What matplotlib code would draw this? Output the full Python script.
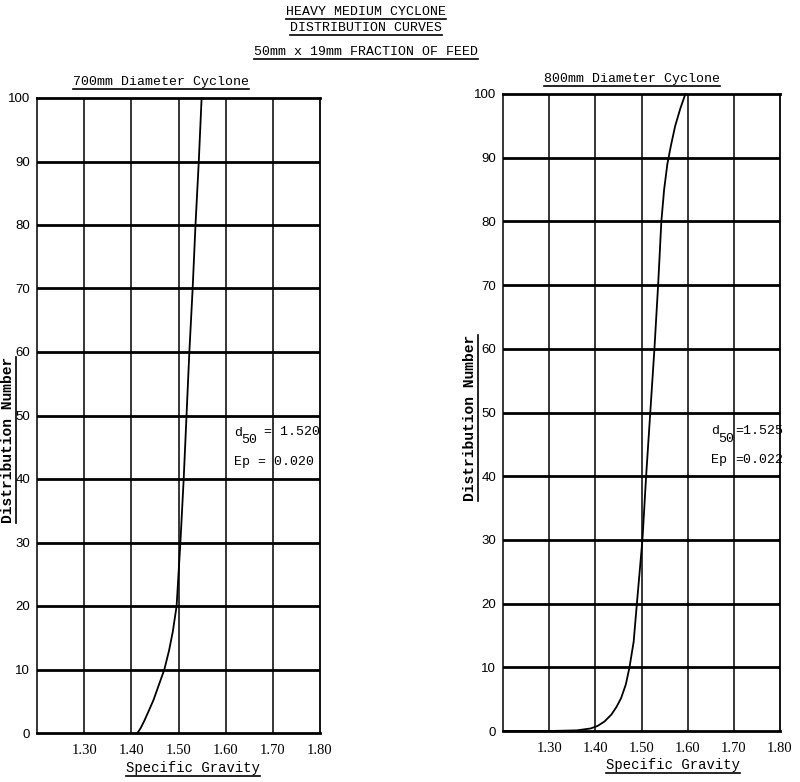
import matplotlib
matplotlib.use("Agg")
import matplotlib.pyplot as plt
from matplotlib.lines import Line2D

# ---- data ----
x_ticks = [1.30, 1.40, 1.50, 1.60, 1.70, 1.80]
x_tick_labels = ["1.30", "1.40", "1.50", "1.60", "1.70", "1.80"]
y_ticks = [0, 10, 20, 30, 40, 50, 60, 70, 80, 90, 100]

sg_700 = [1.413, 1.420, 1.428, 1.437, 1.447, 1.458, 1.470, 1.480, 1.488, 1.496, 1.504, 1.511, 1.517, 1.523, 1.530, 1.536, 1.543, 1.549]
dn_700 = [0, 0.8, 2.0, 3.5, 5.2, 7.5, 10, 13, 16, 20, 30, 40, 50, 60, 70, 80, 90, 100]

sg_800 = [1.20, 1.30, 1.36, 1.39, 1.405, 1.420, 1.435, 1.446, 1.456, 1.466, 1.474, 1.483, 1.490, 1.502, 1.510, 1.519, 1.528, 1.536, 1.543, 1.549, 1.556, 1.564, 1.573, 1.584, 1.595]
dn_800 = [0, 0, 0.1, 0.4, 0.8, 1.5, 2.6, 3.8, 5.2, 7.3, 10, 14, 20, 30, 40, 50, 60, 70, 80, 85, 89, 92, 95, 97.7, 100]

W, H = 800, 782
fig = plt.figure(figsize=(W / 100, H / 100), dpi=100)
fig.patch.set_facecolor("white")

MONO = "Liberation Mono"
SERIF = "Liberation Serif"
SANS = "Liberation Sans"


def fx(x):
    return x / W


def fy(y):
    return 1 - y / H


def make_axes(left, top, right, bottom):
    ax = fig.add_axes([fx(left), fy(bottom), fx(right - left), (bottom - top) / H])
    ax.set_xlim(1.20, 1.80)
    ax.set_ylim(0, 100)
    ax.set_xticks(x_ticks)
    ax.set_xticklabels(x_tick_labels, fontfamily=SERIF, fontsize=10.5)
    ax.set_yticks(y_ticks)
    ax.set_yticklabels([str(v) for v in y_ticks], fontfamily=SANS, fontsize=9.5)
    ax.tick_params(length=0, pad=8, axis="x")
    ax.tick_params(length=0, pad=5, axis="y")
    for v in x_ticks[:-1]:
        ax.axvline(v, color="black", lw=1.1, zorder=1)
    for v in y_ticks[1:-1]:
        ax.axhline(v, color="black", lw=2.0, zorder=1)
    ax.spines["left"].set_linewidth(1.1)
    ax.spines["right"].set_linewidth(1.3)
    ax.spines["top"].set_linewidth(2.0)
    ax.spines["bottom"].set_linewidth(2.0)
    return ax


ax1 = make_axes(37, 98, 320, 733)
ax1.plot(sg_700, dn_700, color="black", lw=1.3, zorder=3, clip_on=False)

ax2 = make_axes(503, 94, 780, 731)
ax2.plot(sg_800, dn_800, color="black", lw=1.3, zorder=3, clip_on=False)

texts = []


def utext(x, y, s, size=9, weight="normal", rotation=0, family=MONO, underline=True, ha="center"):
    t = fig.text(fx(x), fy(y), s, fontsize=size, fontfamily=family, fontweight=weight,
                 rotation=rotation, ha=ha, va="center")
    if underline:
        texts.append((t, rotation))
    return t


# main titles
utext(366, 12, "HEAVY MEDIUM CYCLONE", size=9.5)
utext(366, 28, "DISTRIBUTION CURVES", size=9.5)
utext(366, 52, "50mm x 19mm FRACTION OF FEED", size=9.5)

# panel titles
utext(161, 82, "700mm Diameter Cyclone", size=9.5)
utext(632, 79, "800mm Diameter Cyclone", size=9.5)

# x labels
utext(193, 768, "Specific Gravity", size=10)
utext(673, 765, "Specific Gravity", size=10)

# y labels
utext(8, 440, "Distribution Number", size=10.5, weight="bold", rotation=90)
utext(470, 418, "Distribution Number", size=10.5, weight="bold", rotation=90)

# annotations left
fig.text(fx(234), fy(433), "d", fontsize=9.5, fontfamily=MONO, ha="left", va="center")
fig.text(fx(241), fy(440), "50", fontsize=9.5, fontfamily=MONO, ha="left", va="center")
fig.text(fx(264), fy(432), "= 1.520", fontsize=9.5, fontfamily=MONO, ha="left", va="center")
fig.text(fx(234), fy(462), "Ep = 0.020", fontsize=9.5, fontfamily=MONO, ha="left", va="center")

# annotations right
fig.text(fx(711), fy(431), "d", fontsize=9.5, fontfamily=MONO, ha="left", va="center")
fig.text(fx(718), fy(439), "50", fontsize=9.5, fontfamily=MONO, ha="left", va="center")
fig.text(fx(735), fy(431), "=1.525", fontsize=9.5, fontfamily=MONO, ha="left", va="center")
fig.text(fx(711), fy(460), "Ep", fontsize=9.5, fontfamily=MONO, ha="left", va="center")
fig.text(fx(735), fy(460), "=0.022", fontsize=9.5, fontfamily=MONO, ha="left", va="center")

# underlines
fig.canvas.draw()
r = fig.canvas.get_renderer()
for t, rot in texts:
    bb = t.get_window_extent(r)
    if rot == 0:
        y = bb.y0 - 1
        fig.add_artist(Line2D([bb.x0 / W, bb.x1 / W], [y / H, y / H], color="black", lw=1.2,
                              transform=fig.transFigure))
    else:
        x = bb.x1 + 1
        fig.add_artist(Line2D([x / W, x / W], [bb.y0 / H, bb.y1 / H], color="black", lw=1.2,
                              transform=fig.transFigure))

fig.savefig("out.png", dpi=100, facecolor="white")
